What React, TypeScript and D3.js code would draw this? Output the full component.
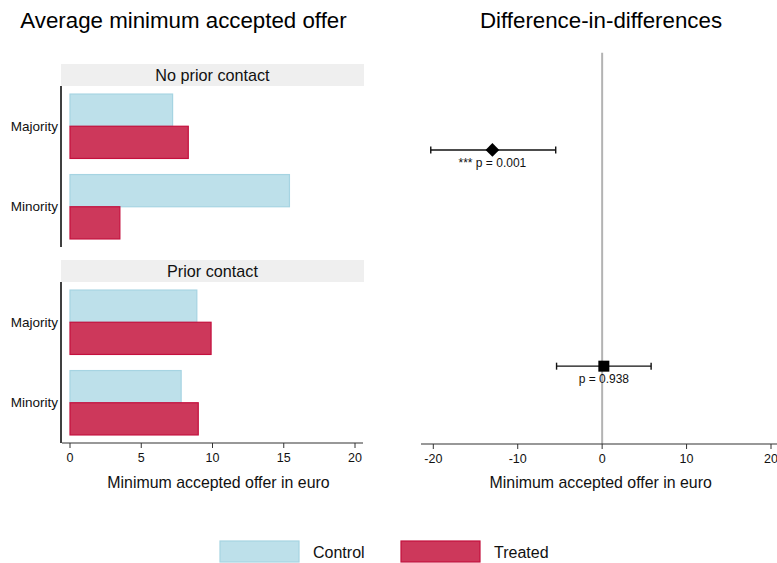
import React from "react";
import * as d3 from "d3";

// categories
const panels = ["No prior contact", "Prior contact"];
const groups = ["Majority", "Minority"];
const arms = ["Control", "Treated"];

// average minimum accepted offer (euro), per panel, order = groups
const controlValues = [
  [7.2, 15.4],
  [8.9, 7.8],
];
const treatedValues = [
  [8.3, 3.5],
  [9.9, 9.0],
];

// difference-in-differences estimates
const didEstimates = [-13.0, 0.2];
const didLow = [-20.3, -5.4];
const didHigh = [-5.5, 5.8];
const didLabels = ["*** p = 0.001", "p = 0.938"];
const didPos = [2, 1];

const leftTicks = [0, 5, 10, 15, 20];
const rightTicks = [-20, -10, 0, 10, 20];

const FONT = "'Liberation Sans', Arial, Helvetica, sans-serif";
const colors: Record<string, { fill: string; stroke: string }> = {
  Control: { fill: "#bde0ea", stroke: "#a6d4e2" },
  Treated: { fill: "#cd385b", stroke: "#c4103d" },
};

export default function App() {
  const width = 777;
  const height = 563;

  // left panel
  const xL = d3.scaleLinear().domain([0, 20]).range([70, 355]);
  const panelTops = [86, 282];
  const panelH = 161;
  const axisY = 443;

  // right panel
  const xR = d3.scaleLinear().domain([-20, 20]).range([433.3, 771]);
  const yR = d3.scaleLinear().domain([0.64, 2.45]).range([444, 52.7]);

  return (
    <svg
      width={width}
      height={height}
      style={{ position: "absolute", left: 0, top: 0, background: "#fff" }}
      fontFamily={FONT}
    >
      {/* titles */}
      <text x={183.5} y={28} fontSize={22.3} textAnchor="middle" fill="#000">
        Average minimum accepted offer
      </text>
      <text x={601} y={28} fontSize={22.3} textAnchor="middle" fill="#000">
        Difference-in-differences
      </text>

      {/* left facets */}
      {panels.map((panel, pi) => {
        const top = panelTops[pi];
        const y0 = d3
          .scaleBand()
          .domain(groups)
          .range([top, top + panelH])
          .paddingInner(0.2)
          .paddingOuter(0.1);
        const y1 = d3.scaleBand().domain(arms).range([0, y0.bandwidth()]);
        return (
          <g key={panel}>
            <rect x={61} y={top - 22} width={303} height={22} fill="#efefef" />
            <text
              x={212.5}
              y={top - 5.5}
              fontSize={16.2}
              textAnchor="middle"
              fill="#111"
            >
              {panel}
            </text>
            <line x1={61} x2={61} y1={top} y2={top + panelH} stroke="#000" strokeWidth={1.5} />
            {groups.map((g, gi) => (
              <g key={g}>
                <text
                  x={58}
                  y={(y0(g) ?? 0) + y0.bandwidth() / 2}
                  dy="0.35em"
                  fontSize={13.5}
                  textAnchor="end"
                  fill="#111"
                >
                  {g}
                </text>
                {arms.map((arm) => {
                  const v = arm === "Control" ? controlValues[pi][gi] : treatedValues[pi][gi];
                  return (
                    <rect
                      key={arm}
                      x={xL(0)}
                      y={(y0(g) ?? 0) + (y1(arm) ?? 0)}
                      width={xL(v) - xL(0)}
                      height={y1.bandwidth()}
                      fill={colors[arm].fill}
                      stroke={colors[arm].stroke}
                      strokeWidth={1.2}
                    />
                  );
                })}
              </g>
            ))}
          </g>
        );
      })}

      {/* left x axis */}
      <line x1={62} x2={363} y1={axisY} y2={axisY} stroke="#333" strokeWidth={1.2} />
      {leftTicks.map((t) => (
        <g key={t} transform={`translate(${xL(t)},${axisY})`}>
          <line y2={5} stroke="#333" />
          <text y={19} fontSize={12.5} textAnchor="middle" fill="#111">
            {t}
          </text>
        </g>
      ))}
      <text x={218.5} y={488} fontSize={15.9} textAnchor="middle" fill="#111">
        Minimum accepted offer in euro
      </text>

      {/* right panel */}
      <line x1={xR(0)} x2={xR(0)} y1={yR(2.45)} y2={yR(0.64)} stroke="#b3b3b3" strokeWidth={2} />
      {didEstimates.map((d, i) => {
        const cy = yR(didPos[i]);
        return (
          <g key={i}>
            <line x1={xR(didLow[i])} x2={xR(didHigh[i])} y1={cy} y2={cy} stroke="#111" strokeWidth={1.4} />
            <line x1={xR(didLow[i])} x2={xR(didLow[i])} y1={cy - 3.5} y2={cy + 3.5} stroke="#111" strokeWidth={1.4} />
            <line x1={xR(didHigh[i])} x2={xR(didHigh[i])} y1={cy - 3.5} y2={cy + 3.5} stroke="#111" strokeWidth={1.4} />
            {i === 0 ? (
              <path
                d={d3.symbol().type(d3.symbolDiamond2).size(120)()!}
                transform={`translate(${xR(d)},${cy})`}
                fill="#000"
              />
            ) : (
              <rect x={xR(d) - 5.5} y={cy - 5.5} width={11} height={11} fill="#000" />
            )}
            <text x={xR(d)} y={cy + 17} fontSize={12} textAnchor="middle" fill="#111">
              {didLabels[i]}
            </text>
          </g>
        );
      })}
      <line x1={421} x2={777} y1={444} y2={444} stroke="#333" strokeWidth={1.2} />
      {rightTicks.map((t) => (
        <g key={t} transform={`translate(${xR(t)},444)`}>
          <line y2={5} stroke="#333" />
          <text y={19} fontSize={12.5} textAnchor="middle" fill="#111">
            {t}
          </text>
        </g>
      ))}
      <text x={600.7} y={488} fontSize={15.9} textAnchor="middle" fill="#111">
        Minimum accepted offer in euro
      </text>

      {/* legend */}
      {arms.map((arm, i) => (
        <g key={arm} transform={`translate(${220 + i * 181},541)`}>
          <rect width={79} height={21} fill={colors[arm].fill} stroke={colors[arm].stroke} strokeWidth={1.2} />
          <text x={93} y={17} fontSize={16} fill="#111">
            {arm}
          </text>
        </g>
      ))}
    </svg>
  );
}
